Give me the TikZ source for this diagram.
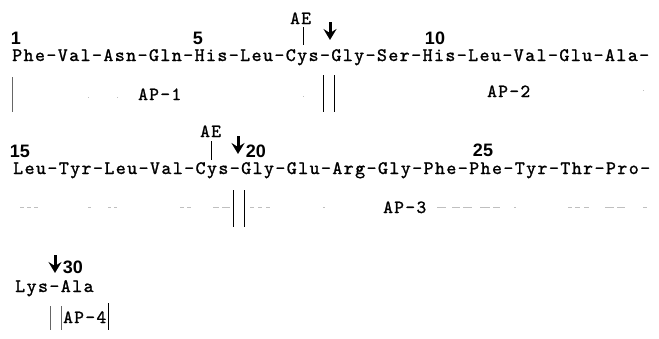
\documentclass[tikz,border=0pt]{standalone}
\usepackage{fontspec}
\usetikzlibrary{arrows.meta}
% typewriter face with extra tracking for the residue chains
\newfontfamily\seqfont[LetterSpace=7.5,FakeBold=1.2]{lmmono10-regular.otf}
\newfontfamily\numfont{Liberation Sans}

\begin{document}
\begin{tikzpicture}[x=1pt,y=-1pt,
  seq/.style={font=\seqfont\fontsize{19}{19}\selectfont, inner sep=0pt, anchor=base west},
  lbl/.style={font=\seqfont\fontsize{18.5}{18.5}\selectfont, inner sep=0pt, anchor=base west},
  resnum/.style={font=\numfont\bfseries\fontsize{18}{18}\selectfont, inner sep=0pt, anchor=base},
  cut/.style={line width=3pt, -{Stealth[length=11pt,width=13pt,inset=4pt]}},
  tick/.style={line width=0.9pt},
  bound/.style={line width=0.8pt},
  faint/.style={line width=0.6pt, black!60},
  trace/.style={line width=0.5pt, black!25}]

\useasboundingbox (0,0) rectangle (659,338);

% ---------- residues 1-14 ----------
\node[resnum] (n1)  at (16,44)  {1};
\node[resnum] (n5)  at (198,44) {5};
\node[resnum] (n10) at (435,44) {10};
\node[seq] (row1) at (12,61) {Phe-Val-Asn-Gln-His-Leu-Cys-Gly-Ser-His-Leu-Val-Glu-Ala-};

\node[lbl] (ae1) at (290,24) {AE};
\coordinate (ae1top) at (303,27);
\coordinate (ae1bot) at (303,45);
\draw[tick] (ae1top) -- (ae1bot);
\coordinate (cut1a) at (330,22);
\coordinate (cut1b) at (330,40);
\draw[cut] (cut1a) -- (cut1b);

% fragments AP-1 / AP-2
\coordinate (b1a) at (12,77);   \coordinate (b1b) at (12,112);
\coordinate (b2a) at (323,75);  \coordinate (b2b) at (323,112);
\coordinate (b3a) at (334,75);  \coordinate (b3b) at (334,112);
\draw[faint] (b1a) -- (b1b);
\draw[bound] (b2a) -- (b2b);
\draw[bound] (b3a) -- (b3b);
\node[lbl] (ap1) at (138,100) {AP-1};
\node[lbl] (ap2) at (487,97)  {AP-2};
\foreach \x/\y in {88/97, 117/97, 303/96, 643/90}
  \draw[trace] (\x,\y) -- ++(1.2,0);

% ---------- residues 15-28 ----------
\node[resnum] (n15) at (20,157)  {15};
\node[resnum] (n20) at (256,157) {20};
\node[resnum] (n25) at (483,156) {25};
\node[seq] (row2) at (13,174) {Leu-Tyr-Leu-Val-Cys-Gly-Glu-Arg-Gly-Phe-Phe-Tyr-Thr-Pro-};

\node[lbl] (ae2) at (200,137) {AE};
\coordinate (ae2top) at (211,141);
\coordinate (ae2bot) at (211,160);
\draw[tick] (ae2top) -- (ae2bot);
\coordinate (cut2a) at (238,136);
\coordinate (cut2b) at (238,154);
\draw[cut] (cut2a) -- (cut2b);

% fragment AP-3
\coordinate (b4a) at (233,190); \coordinate (b4b) at (233,227);
\coordinate (b5a) at (244,190); \coordinate (b5b) at (244,227);
\draw[bound] (b4a) -- (b4b);
\draw[bound] (b5a) -- (b5b);
\node[lbl] (ap3) at (383,213) {AP-3};
\foreach \xa/\xb in {20/24, 27/31, 34/38, 88/91, 108/111, 114/117, 180/184, 187/191,
                     213/219, 222/230, 250/254, 258/262, 266/270, 323/325,
                     437/446, 452/460, 463/472, 480/490, 493/500, 514/516,
                     568/572, 575/580, 584/589, 605/614, 617/625, 643/647}
  \draw[trace] (\xa,207) -- (\xb,207);

% ---------- residues 29-30 ----------
\coordinate (cut3a) at (55,255);
\coordinate (cut3b) at (55,273);
\draw[cut] (cut3a) -- (cut3b);
\node[resnum] (n30) at (73,273) {30};
\node[seq] (row3) at (15,292) {Lys-Ala};

% fragment AP-4
\coordinate (b6a) at (50,306);  \coordinate (b6b) at (50,330);
\coordinate (b7a) at (61,306);  \coordinate (b7b) at (61,330);
\coordinate (b8a) at (108,303); \coordinate (b8b) at (108,330);
\draw[faint] (b6a) -- (b6b);
\draw[faint] (b7a) -- (b7b);
\draw[bound] (b8a) -- (b8b);
\node[lbl] (ap4) at (63,323) {AP-4};
\end{tikzpicture}
\end{document}
